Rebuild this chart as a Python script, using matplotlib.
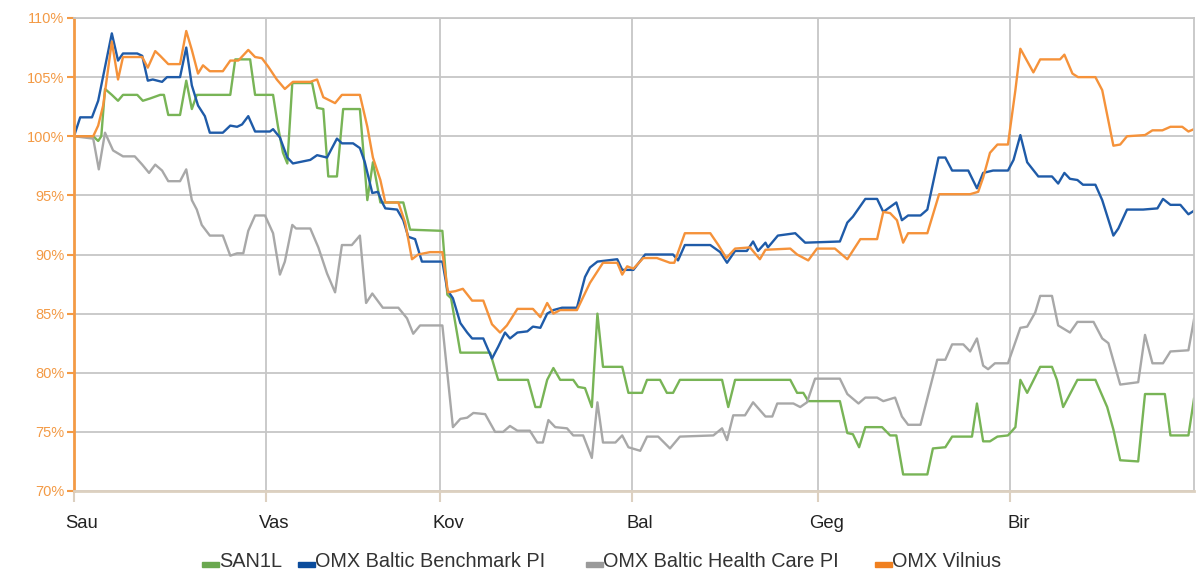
import matplotlib.pyplot as plt
from matplotlib.patches import Rectangle
from matplotlib.transforms import ScaledTranslation

plt.rcParams['font.family'] = ['Liberation Sans', 'DejaVu Sans']

# dienos nuo sausio 1 d.
months = ['Sau', 'Vas', 'Kov', 'Bal', 'Geg', 'Bir']
month_days = [0, 31, 59, 90, 120, 151]

san_days = [0, 3.1, 3.9, 4.4, 5.0, 6.1, 7.1, 7.9, 10.2, 11.1, 12.3, 13.9, 14.5, 15.2, 17.1, 18.1, 19.0, 19.8,
            25.2, 26.0, 28.4, 29.2, 32.1, 32.9, 33.7, 34.4, 35.2, 38.4, 39.2, 40.2, 41.0, 42.4, 43.4, 46.1,
            47.3, 48.2, 49.4, 53.1, 54.2, 59.4, 60.2, 60.8, 62.3, 67.1, 68.4, 73.2, 74.4, 75.2, 76.3, 77.3,
            78.4, 80.5, 81.3, 82.4, 83.5, 84.4, 85.3, 88.4, 89.4, 91.6, 92.4, 94.5, 95.6, 96.6, 97.7, 104.5,
            105.5, 106.6, 115.5, 116.6, 117.6, 118.4, 123.5, 124.7, 125.6, 126.6, 127.6, 130.3, 131.6, 132.6,
            133.7, 137.6, 138.5, 140.5, 141.6, 144.8, 145.6, 146.6, 147.7, 148.9, 150.6, 151.8, 152.6, 153.7,
            155.8, 157.7, 158.5, 159.5, 161.8, 164.7, 166.6, 167.6, 168.7, 171.6, 172.7, 175.9, 176.8, 179.7,
            180.6]
san = [100, 100, 99.6, 100, 104.0, 103.5, 103.0, 103.5, 103.5, 103.0, 103.2, 103.5, 103.5, 101.8, 101.8,
       104.7, 102.3, 103.5, 103.5, 106.5, 106.5, 103.5, 103.5, 100.8, 98.6, 97.7, 104.5, 104.5, 102.4, 102.3,
       96.6, 96.6, 102.3, 102.3, 94.6, 97.8, 94.4, 94.4, 92.1, 92.0, 86.6, 86.3, 81.7, 81.7, 79.4, 79.4,
       77.1, 77.1, 79.4, 80.4, 79.4, 79.4, 78.8, 78.7, 77.1, 85.0, 80.5, 80.5, 78.3, 78.3, 79.4, 79.4, 78.3,
       78.3, 79.4, 79.4, 77.1, 79.4, 79.4, 78.3, 78.3, 77.6, 77.6, 74.9, 74.8, 73.7, 75.4, 75.4, 74.7, 74.7,
       71.4, 71.4, 73.6, 73.7, 74.6, 74.6, 77.4, 74.2, 74.2, 74.6, 74.7, 75.4, 79.4, 78.3, 80.5, 80.5, 79.4,
       77.1, 79.4, 79.4, 77.1, 75.2, 72.6, 72.5, 78.2, 78.2, 74.7, 74.7, 77.8]

bench_days = [0, 1.0, 2.9, 3.9, 6.1, 7.1, 7.9, 10.2, 11.0, 11.9, 12.7, 14.2, 15.0, 17.1, 18.1, 19.0, 20.0,
              21.1, 21.9, 24.0, 25.2, 26.3, 27.1, 28.1, 29.2, 31.6, 32.1, 33.2, 34.4, 35.3, 38.1, 39.2, 40.8,
              42.4, 43.2, 45.0, 46.1, 46.9, 48.1, 49.0, 49.7, 50.2, 52.1, 53.1, 53.9, 55.0, 56.1, 59.4, 60.2,
              61.1, 62.3, 63.4, 64.2, 66.0, 67.4, 68.4, 69.5, 70.3, 71.5, 73.1, 74.0, 75.2, 76.3, 77.3, 78.7,
              81.1, 82.4, 83.2, 84.4, 87.6, 88.4, 90.2, 92.1, 96.6, 97.4, 98.5, 102.6, 104.2, 105.3, 106.6,
              108.5, 109.5, 110.3, 111.5, 111.9, 113.5, 116.3, 117.9, 123.5, 124.7, 125.6, 127.6, 129.5,
              130.5, 132.6, 133.5, 134.5, 136.5, 137.6, 139.4, 140.5, 141.6, 144.2, 145.6, 146.6, 148.2,
              150.6, 151.5, 152.6, 153.7, 155.5, 157.7, 158.7, 159.7, 160.6, 161.8, 162.7, 164.7, 165.8,
              167.6, 168.4, 169.8, 172.4, 174.7, 175.6, 176.8, 178.4, 179.7, 180.6]
bench = [100.0, 101.6, 101.6, 103.0, 108.7, 106.4, 107.0, 107.0, 106.8, 104.7, 104.8, 104.6, 105.0, 105.0,
         107.5, 104.3, 102.6, 101.7, 100.3, 100.3, 100.9, 100.8, 101.0, 101.7, 100.4, 100.4, 100.6, 99.9,
         98.2, 97.7, 98.0, 98.4, 98.2, 99.8, 99.4, 99.4, 99.0, 97.8, 95.2, 95.3, 94.4, 93.9, 93.8, 92.9,
         91.5, 91.3, 89.4, 89.4, 87.0, 86.3, 84.2, 83.4, 82.9, 82.9, 81.2, 82.2, 83.4, 82.9, 83.4, 83.5,
         83.9, 83.8, 85.0, 85.3, 85.5, 85.5, 88.1, 88.9, 89.4, 89.6, 88.7, 88.7, 90.0, 90.0, 89.5, 90.8,
         90.8, 90.2, 89.3, 90.3, 90.3, 91.1, 90.3, 91.0, 90.6, 91.6, 91.8, 91.0, 91.1, 92.7, 93.2, 94.7,
         94.7, 93.6, 94.4, 92.9, 93.3, 93.3, 93.8, 98.2, 98.2, 97.1, 97.1, 95.6, 96.9, 97.1, 97.1, 98.0,
         100.1, 97.8, 96.6, 96.6, 96.0, 96.9, 96.4, 96.3, 95.9, 95.9, 94.6, 91.6, 92.2, 93.8, 93.8, 93.9,
         94.7, 94.2, 94.2, 93.4, 93.7]

health_days = [0, 3.1, 4.0, 5.0, 6.3, 7.9, 9.8, 11.0, 12.1, 13.1, 14.2, 15.2, 17.1, 18.1, 19.0, 19.8, 20.6,
               21.9, 24.0, 25.2, 26.3, 27.3, 28.1, 29.2, 30.8, 32.1, 33.2, 34.0, 35.2, 35.8, 38.1, 39.4,
               40.8, 42.1, 43.2, 44.8, 46.1, 47.1, 48.1, 49.8, 52.3, 53.7, 54.7, 55.8, 59.4, 61.1, 62.3,
               63.4, 64.4, 66.3, 67.9, 69.2, 70.3, 71.5, 73.5, 74.7, 75.6, 76.5, 77.6, 79.5, 80.5, 82.1,
               83.5, 84.4, 85.3, 87.3, 88.4, 89.4, 91.3, 92.4, 94.2, 96.1, 97.7, 103.1, 104.5, 105.3, 106.3,
               108.2, 109.5, 111.5, 112.6, 113.4, 116.0, 117.1, 118.2, 119.5, 123.5, 124.7, 126.5, 127.6,
               129.5, 130.5, 132.4, 133.5, 134.5, 136.5, 139.2, 140.5, 141.6, 143.4, 144.5, 145.6, 146.6,
               147.4, 148.5, 150.6, 152.6, 153.7, 155.0, 155.8, 157.7, 158.7, 160.6, 161.8, 164.4, 165.8,
               166.8, 168.7, 171.6, 172.7, 173.9, 175.6, 176.8, 179.7, 180.6]
health = [100, 99.8, 97.2, 100.3, 98.8, 98.3, 98.3, 97.6, 96.9, 97.6, 97.1, 96.2, 96.2, 97.2, 94.6, 93.8,
          92.5, 91.6, 91.6, 89.9, 90.1, 90.1, 92.0, 93.3, 93.3, 91.8, 88.3, 89.4, 92.5, 92.2, 92.2, 90.6,
          88.4, 86.8, 90.8, 90.8, 91.6, 85.9, 86.7, 85.5, 85.5, 84.6, 83.3, 84.0, 84.0, 75.4, 76.1, 76.2,
          76.6, 76.5, 75.0, 75.0, 75.5, 75.1, 75.1, 74.1, 74.1, 76.0, 75.4, 75.3, 74.7, 74.7, 72.8, 77.5,
          74.1, 74.1, 74.7, 73.7, 73.4, 74.6, 74.6, 73.6, 74.6, 74.7, 75.3, 74.3, 76.4, 76.4, 77.5, 76.3,
          76.3, 77.4, 77.4, 77.1, 77.5, 79.5, 79.5, 78.2, 77.4, 77.9, 77.9, 77.6, 77.9, 76.3, 75.6, 75.6,
          81.1, 81.1, 82.4, 82.4, 81.8, 82.9, 80.6, 80.3, 80.8, 80.8, 83.8, 83.9, 85.1, 86.5, 86.5, 84.0,
          83.4, 84.3, 84.3, 82.9, 82.5, 79.0, 79.2, 83.2, 80.8, 80.8, 81.8, 81.9, 84.5]

vilnius_days = [0, 3.1, 3.9, 4.7, 6.1, 7.1, 7.9, 11.0, 11.9, 13.1, 13.9, 15.2, 17.1, 18.1, 19.0, 20.0, 20.8,
                21.9, 24.0, 25.2, 26.5, 28.1, 29.2, 30.3, 31.3, 32.7, 34.0, 35.3, 38.1, 39.2, 40.2, 42.1,
                43.2, 46.1, 47.3, 48.2, 49.4, 50.2, 52.3, 53.4, 54.5, 55.5, 57.4, 59.4, 60.3, 61.5, 62.7,
                64.2, 66.0, 67.4, 68.7, 69.8, 71.5, 74.0, 75.2, 76.3, 77.3, 78.4, 81.1, 83.2, 85.3, 87.6,
                88.4, 89.2, 90.2, 91.8, 94.0, 96.1, 96.8, 98.5, 102.6, 103.9, 105.2, 106.6, 109.0, 110.6,
                111.5, 115.5, 116.6, 118.4, 119.8, 122.7, 124.7, 126.8, 129.5, 130.5, 131.6, 132.7, 133.7,
                134.5, 137.6, 139.5, 144.5, 145.8, 146.6, 147.7, 148.9, 150.6, 151.8, 152.6, 154.7, 155.8,
                159.0, 159.7, 161.0, 161.9, 164.7, 165.8, 167.6, 168.7, 169.8, 172.7, 173.9, 175.5, 176.8,
                178.7, 179.7, 180.6]
vilnius = [100, 100, 100.9, 102.6, 108.0, 104.8, 106.7, 106.7, 105.8, 107.2, 106.8, 106.1, 106.1, 108.9,
           107.3, 105.3, 106.0, 105.5, 105.5, 106.4, 106.4, 107.3, 106.7, 106.6, 105.9, 104.8, 104.0, 104.6,
           104.6, 104.8, 103.3, 102.8, 103.5, 103.5, 100.8, 98.2, 96.3, 94.4, 94.4, 92.7, 89.6, 90.0, 90.2,
           90.2, 86.8, 86.9, 87.1, 86.1, 86.1, 84.1, 83.4, 84.0, 85.4, 85.4, 84.7, 85.9, 85.0, 85.3, 85.3,
           87.6, 89.3, 89.3, 88.3, 89.0, 88.8, 89.7, 89.7, 89.3, 89.3, 91.8, 91.8, 90.8, 89.7, 90.5, 90.6,
           89.6, 90.4, 90.5, 90.0, 89.5, 90.5, 90.5, 89.6, 91.3, 91.3, 93.6, 93.5, 92.9, 91.0, 91.8, 91.8,
           95.1, 95.1, 95.3, 96.5, 98.6, 99.3, 99.3, 103.9, 107.4, 105.4, 106.5, 106.5, 106.9, 105.3, 105.0,
           105.0, 103.9, 99.2, 99.3, 100.0, 100.1, 100.5, 100.5, 100.8, 100.8, 100.4, 100.6]

labels = ['SAN1L', 'OMX Baltic Benchmark PI', 'OMX Baltic Health Care PI', 'OMX Vilnius']
line_colors = ['#78b456', '#1f5ba8', '#a8a8a8', '#f5923a']
key_colors = ['#6aa84f', '#0b4c9c', '#9a9a9a', '#f08020']
key_x = [202, 298, 586, 875]  # legendos žymeklių kairys kraštas, px

orange = '#f39a45'
grid_c = '#c6c6c6'
W, H = 1198, 571

fig = plt.figure(figsize=(W / 100, H / 100), dpi=100)
ax = fig.add_axes([74 / W, 1 - 491 / H, 1120 / W, 473 / H])

series = [(san_days, san), (bench_days, bench), (health_days, health), (vilnius_days, vilnius)]
for (d, v), c in zip(series, line_colors):
    ax.plot(d, v, color=c, lw=1.7, solid_joinstyle='round')

ax.set_xlim(0, 180.6)
ax.set_ylim(70, 110)
ax.set_yticks(range(70, 111, 5))
ax.set_yticklabels([f'{v}%' for v in range(70, 111, 5)])
ax.set_xticks(month_days)
ax.set_xticklabels(months)
ax.grid(color=grid_c, lw=1.3)
ax.set_axisbelow(True)

ax.spines['left'].set_color(orange)
ax.spines['left'].set_linewidth(2)
ax.spines['bottom'].set_color('#dcd0c0')
ax.spines['bottom'].set_linewidth(2)
ax.spines['top'].set_color(grid_c)
ax.spines['right'].set_color(grid_c)
ax.spines['top'].set_linewidth(1.3)
ax.spines['right'].set_linewidth(1.3)

ax.tick_params(axis='y', colors=orange, length=5, width=1.5, labelsize=10.5, pad=2)
ax.tick_params(axis='x', color='#dcd0c0', labelcolor='#222222', length=8, width=1.5,
               labelsize=13.3, pad=9)
for lab in ax.get_xticklabels():
    lab.set_transform(lab.get_transform() + ScaledTranslation(8 / 100, 0, fig.dpi_scale_trans))

# legenda apačioje: trumpas storas brūkšnelis prie teksto pagrindo
for lbl, c, x0 in zip(labels, key_colors, key_x):
    fig.patches.append(Rectangle((x0 / W, 1 - 567 / H), 17 / W, 5 / H, color=c,
                                 transform=fig.transFigure, figure=fig))
    fig.text((x0 + 17) / W, 1 - 567 / H, lbl, fontsize=14.3, color='#333333',
             ha='left', va='baseline')

fig.savefig('out.png', dpi=100)
